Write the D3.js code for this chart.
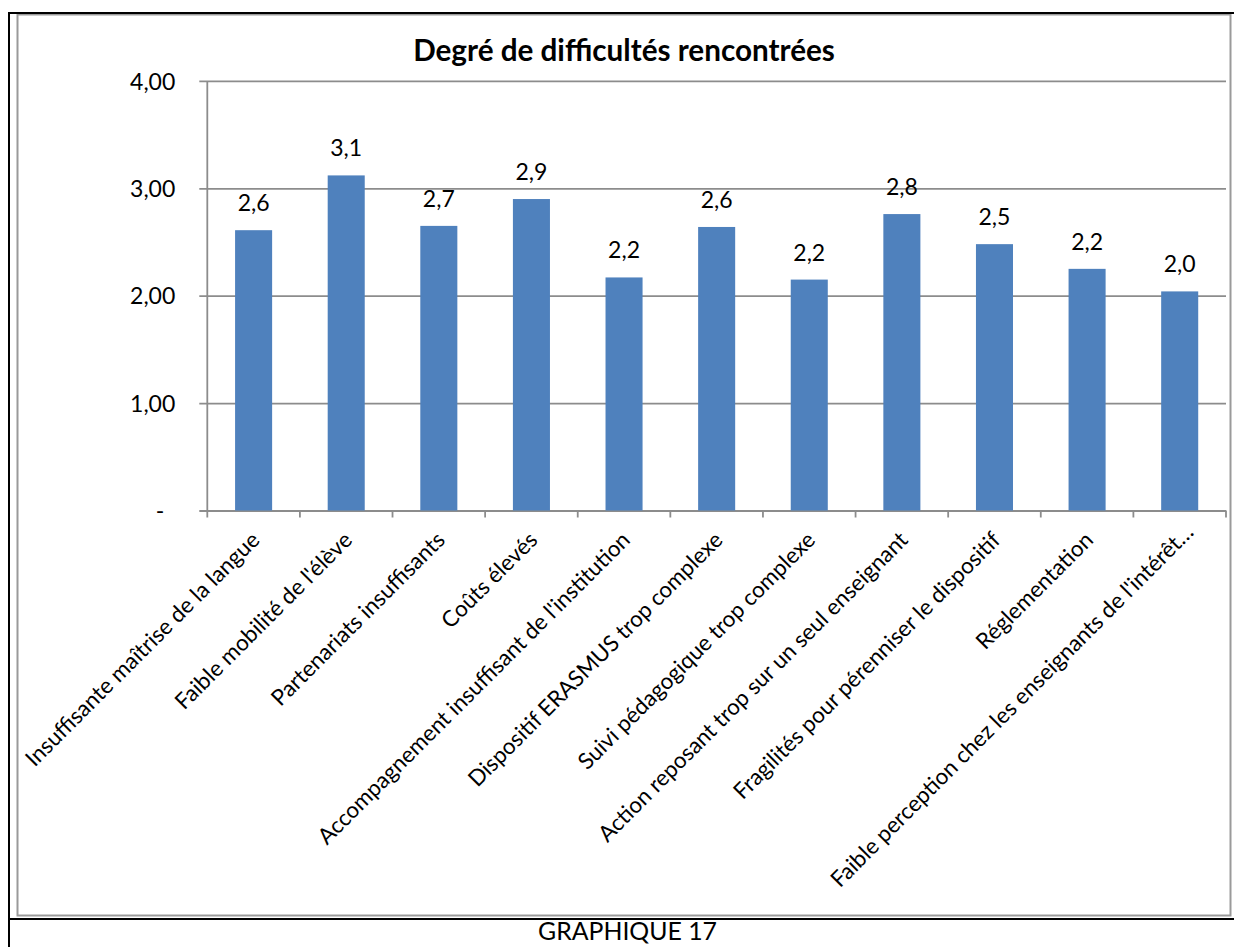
<!DOCTYPE html>
<html>
<head>
<meta charset="utf-8">
<script src="https://cdn.jsdelivr.net/npm/d3@7"></script>
<style>
  html, body { margin: 0; padding: 0; background: #fff; }
  svg { display: block; }
  text { font-family: Lato, "Open Sans", sans-serif; fill: #000; }
</style>
</head>
<body>
<svg id="chart" width="1234" height="947"></svg>
<script>
const title = "Degré de difficultés rencontrées";
const caption = "GRAPHIQUE 17";
const categories = [
  "Insuffisante maîtrise de la langue",
  "Faible mobilité de l'élève",
  "Partenariats insuffisants",
  "Coûts élevés",
  "Accompagnement insuffisant de l'institution",
  "Dispositif ERASMUS trop complexe",
  "Suivi pédagogique trop complexe",
  "Action reposant trop sur un seul enseignant",
  "Fragilités pour pérenniser le dispositif",
  "Réglementation",
  "Faible perception chez les enseignants de l'intérêt…"
];
const values = [2.61, 3.12, 2.65, 2.90, 2.17, 2.64, 2.15, 2.76, 2.48, 2.25, 2.04];
const valueLabels = ["2,6", "3,1", "2,7", "2,9", "2,2", "2,6", "2,2", "2,8", "2,5", "2,2", "2,0"];
const yTicks = [0, 1, 2, 3, 4];
const yTickLabels = ["-", "1,00", "2,00", "3,00", "4,00"];

const svg = d3.select("#chart");

// frame
svg.append("rect").attr("x", 17.5).attr("y", 14.5).attr("width", 1213).attr("height", 901)
  .attr("fill", "none").attr("stroke", "#9a9a9a").attr("stroke-width", 2);
svg.append("line").attr("x1", 9).attr("x2", 9).attr("y1", 12).attr("y2", 947)
  .attr("stroke", "#000").attr("stroke-width", 2);
svg.append("line").attr("x1", 8).attr("x2", 1234).attr("y1", 13).attr("y2", 13)
  .attr("stroke", "#000").attr("stroke-width", 2);
svg.append("line").attr("x1", 8).attr("x2", 1234).attr("y1", 919).attr("y2", 919)
  .attr("stroke", "#000").attr("stroke-width", 2);

const x0 = 207.3, x1 = 1226, yTop = 80.9, yBot = 510.5;
const x = d3.scaleBand().domain(categories).range([x0, x1]).paddingInner(0.6).paddingOuter(0.3);
const y = d3.scaleLinear().domain([0, 4]).range([yBot, yTop]);

// y axis with gridlines
const gAxis = svg.append("g").attr("transform", `translate(${x0},0)`)
  .call(d3.axisLeft(y).tickValues(yTicks)
    .tickFormat((d, i) => yTickLabels[i])
    .tickSizeInner(-(x1 - x0)).tickSizeOuter(0).tickPadding(32));
gAxis.select(".domain").remove();
gAxis.selectAll(".tick line").attr("x1", -8).attr("stroke", "#8c8c8c").attr("stroke-width", 1.8);
gAxis.selectAll(".tick text").attr("font-size", 23).attr("font-family", "Lato")
  .attr("fill", "#000").attr("dy", "0.36em")
  .attr("dx", (d, i) => yTickLabels[i] === "-" ? -11 : 0);

// vertical axis line
svg.append("line").attr("x1", x0).attr("x2", x0).attr("y1", yTop).attr("y2", yBot + 7)
  .attr("stroke", "#8c8c8c").attr("stroke-width", 1.8);

// x tick marks at band boundaries
svg.append("g").selectAll("line").data(categories.map((c, i) => x0 + (i + 1) * x.step()))
  .join("line")
  .attr("x1", d => d).attr("x2", d => d).attr("y1", yBot).attr("y2", yBot + 7)
  .attr("stroke", "#8c8c8c").attr("stroke-width", 1.8);

// bars
svg.append("g").selectAll("rect").data(values).join("rect")
  .attr("x", (d, i) => x(categories[i]))
  .attr("width", x.bandwidth())
  .attr("y", d => y(d))
  .attr("height", d => yBot - y(d))
  .attr("fill", "#4f81bd");

// value labels
svg.append("g").selectAll("text").data(values).join("text")
  .attr("x", (d, i) => x(categories[i]) + x.bandwidth() / 2)
  .attr("y", d => y(d) - 19)
  .attr("text-anchor", "middle")
  .attr("font-size", 23)
  .text((d, i) => valueLabels[i]);

// x labels rotated
svg.append("g").selectAll("text").data(categories).join("text")
  .attr("text-anchor", "end")
  .attr("font-size", 22.4)
  .attr("dy", "0.72em")
  .attr("transform", (d, i) => {
    const cx = x(d) + x.bandwidth() / 2;
    const shift = d.endsWith("…") ? 11 : 0;
    return `translate(${cx - 4 + shift * 0.707},${530 - shift * 0.707}) rotate(-45)`;
  })
  .text(d => d);

// title
const t = svg.append("text").attr("x", 624).attr("y", 61).attr("text-anchor", "middle")
  .attr("font-weight", "bold").attr("font-size", 26).text(title);
const tw = t.node().getComputedTextLength();
t.attr("font-size", 26 * 422 / tw);

// caption
const c = svg.append("text").attr("x", 627.5).attr("text-anchor", "middle")
  .attr("font-size", 26).text(caption);
const cw = c.node().getComputedTextLength();
const cfs = 26 * 179 / cw;
c.attr("font-size", cfs).attr("y", 940);
</script>
</body>
</html>
